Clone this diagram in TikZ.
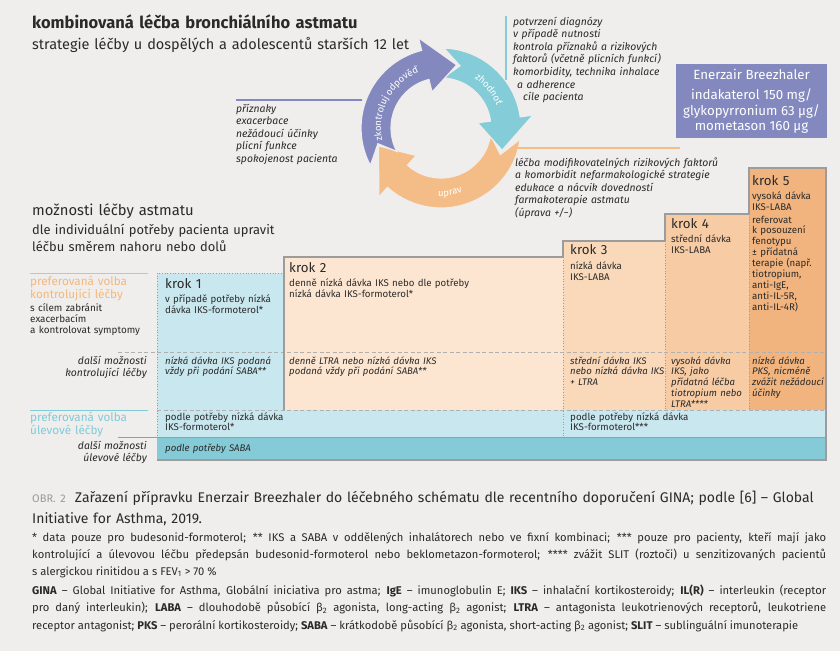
\documentclass[tikz,border=0pt]{standalone}
\usepackage{fontspec}
\setmainfont{Fira Sans}
\usetikzlibrary{decorations.text}
\definecolor{PageBg}{HTML}{EFEEEC}
\definecolor{CycleBlue}{HTML}{8389BE}
\definecolor{CycleTeal}{HTML}{83CCD8}
\definecolor{CycleOrange}{HTML}{F4BD87}
\definecolor{LabelOrange}{HTML}{F5B77A}
\definecolor{LabelTeal}{HTML}{7FCBD8}
\definecolor{StepOne}{HTML}{C9E7EE}
\definecolor{StepTwo}{HTML}{FDE6D1}
\definecolor{StepThree}{HTML}{FAD9BA}
\definecolor{StepFour}{HTML}{F7CCA4}
\definecolor{StepFive}{HTML}{F2B47E}
\definecolor{SabaBg}{HTML}{85CBD7}
\definecolor{FrameGray}{HTML}{9C9C9C}
\definecolor{Ink}{HTML}{2A2A2A}
\definecolor{CaptionGray}{HTML}{9A9A9A}

% one curved arrow of the cycle: colour, tail, notch, head base, tip (angles)
\newcommand{\cyclearrow}[5]{%
  \path[fill=#1, draw=PageBg, line width=1.2pt]
    (#2:80) arc (#2:#4:80) -- (#4:93) -- (#5:65) -- (#4:37) -- (#4:50)
    arc (#4:#2:50) -- (#3:65) -- cycle;}
\newcommand{\cyclefont}{\color{white}\fontsize{9.5}{9.5}\selectfont}

\begin{document}
\begin{tikzpicture}[x=1pt, y=1pt,
  txt/.style={inner sep=0pt, anchor=base west, align=left, text=Ink, text width=#1},
  txt/.default=250pt,
  rtxt/.style={inner sep=0pt, anchor=base east, align=right, text=Ink, text width=120pt},
  steplabel/.style={txt=70pt, font=\fontsize{13.3}{15}\selectfont},
  stepnote/.style={txt=#1, font=\fontsize{9.7}{11}\selectfont},
  stepnote/.default=100pt,
  altnote/.style={txt=#1, font=\fontsize{9.6}{10.8}\selectfont\itshape},
  altnote/.default=100pt,
  sidenote/.style={txt=220pt, font=\fontsize{10.4}{12.6}\selectfont\itshape},
  frame/.style={draw=FrameGray, line width=1.8pt},
  thinrule/.style={draw=FrameGray, line width=0.5pt},
  dotrule/.style={draw=FrameGray, line width=0.7pt, dotted},
  dashrule/.style={draw=FrameGray!80, line width=0.6pt, dash pattern=on 4pt off 2.5pt}]
  \fill[PageBg] (0,0) rectangle (840,-651);
  \useasboundingbox (0,0) rectangle (840,-651);

  % heading
  \node[txt=340pt, font=\fontsize{16.5}{19}\selectfont\bfseries] (title) at (32,-28)
    {kombinovaná léčba bronchiálního astmatu};
  \node[txt=380pt, font=\fontsize{14.5}{17}\selectfont] (subtitle) at (32,-49)
    {strategie léčby u dospělých a adolescentů starších 12 let};

  % cycle
  \begin{scope}[shift={(441,-128)}]
    \cyclearrow{CycleOrange}{-8}{-24}{-132}{-164}
    \cyclearrow{CycleTeal}{88}{73}{8}{-20}
    \cyclearrow{CycleBlue}{208}{194}{104}{76}
    \path[decorate, decoration={text along path, text align=center,
      text={|\cyclefont|zkontroluj odpověď}}] (197:60) arc (197:107:60);
    \path[decorate, decoration={text along path, text align=center,
      text={|\cyclefont|zhodnoť}}] (62:60) arc (62:16:60);
    \path[decorate, decoration={text along path, text align=center,
      text={|\cyclefont|uprav}}] (-104:68) arc (-104:-60:68);
  \end{scope}

  \draw[CycleBlue, line width=1.2pt] (236,-100) -- (362,-100);
  \node[sidenote] (checklist) at (236,-112)
    {příznaky\\exacerbace\\nežádoucí účinky\\plicní funkce\\spokojenost pacienta};
  \draw[CycleTeal, line width=1.2pt] (506,-16) -- (506,-80);
  \node[sidenote] (assesslist) at (513,-25)
    {potvrzení diagnózy\\v případě nutnosti\\kontrola příznaků a rizikových\\
     faktorů (včetně plicních funkcí)\\komorbidity, technika inhalace\\
     \hspace*{4pt}a adherence\\\hspace*{10pt}cíle pacienta};
  \draw[CycleOrange, line width=1.2pt] (517,-148) -- (680,-148);
  \node[sidenote] (adjustlist) at (515,-166)
    {léčba modifikovatelných rizikových faktorů\\a komorbidit nefarmakologické strategie\\
     edukace a nácvik dovedností\\farmakoterapie astmatu\\(úprava +/−)};

  \node[fill=CycleBlue, text=white, minimum width=151pt, minimum height=74pt,
        inner sep=0pt, align=center, font=\fontsize{13.3}{15.5}\selectfont] (product) at (751.5,-101)
    {Enerzair Breezhaler\\[5pt]indakaterol 150 mg/\\glykopyrronium 63 µg/\\mometason 160 µg};

  % options heading
  \node[txt, font=\fontsize{14.8}{17}\selectfont] (optstitle) at (32,-215) {možnosti léčby astmatu};
  \node[txt, font=\fontsize{12.9}{17}\selectfont] (optssub) at (32,-234)
    {dle individuální potřeby pacienta upravit\\léčbu směrem nahoru nebo dolů};

  % step cells
  \fill[StepOne] (157,-273) rectangle (284,-410);
  \fill[StepTwo] (284,-257) rectangle (563,-410);
  \fill[StepThree] (563,-241) rectangle (665,-410);
  \fill[StepFour] (665,-214) rectangle (749,-410);
  \fill[StepFive] (749,-168) rectangle (826,-410);
  \fill[StepOne] (157,-410) rectangle (826,-437);
  \fill[SabaBg] (157,-437) rectangle (826,-460);

  \draw[dotrule] (284,-273) -- (157,-273) -- (157,-437);
  \draw[dotrule] (563,-257) -- (563,-437);
  \draw[dotrule] (665,-241) -- (665,-410);
  \draw[dotrule] (749,-214) -- (749,-410);
  \draw[dashrule] (118,-352) -- (826,-352);
  \draw[dashrule] (157,-410) -- (826,-410);
  \draw[thinrule] (118,-437) -- (826,-437);
  \draw[frame] (284,-410) -- (284,-257) -- (563,-257) -- (563,-241) -- (665,-241)
    -- (665,-214) -- (749,-214) -- (749,-168) -- (826,-168) -- (826,-460) -- (157,-460);

  % row labels
  \draw[LabelOrange, line width=1pt] (30,-273) -- (148,-273);
  \node[txt=120pt, text=LabelOrange, font=\fontsize{11.7}{13}\selectfont] (ctrllabel) at (30,-285)
    {preferovaná volba\\kontrolující léčby};
  \node[txt=120pt, font=\fontsize{9.9}{11}\selectfont] (ctrlaim) at (30,-311)
    {s cílem zabránit\\exacerbacím\\a kontrolovat symptomy};
  \node[rtxt, font=\fontsize{10.4}{12}\selectfont\itshape] (ctrlother) at (147,-364)
    {další možnosti\\kontrolující léčby};
  \draw[LabelTeal, line width=1pt] (30,-410) -- (148,-410);
  \node[txt=120pt, text=LabelTeal, font=\fontsize{11.7}{13}\selectfont] (rellabel) at (30,-421)
    {preferovaná volba\\úlevové léčby};
  \node[rtxt, font=\fontsize{10.4}{12.5}\selectfont\itshape] (relother) at (147,-449)
    {další možnosti\\úlevové léčby};

  % steps
  \node[steplabel] (k1) at (165,-288) {krok 1};
  \node[stepnote=118pt] (d1) at (165,-302) {v případě potřeby nízká\\dávka IKS-formoterol*};
  \node[steplabel] (k2) at (289,-272) {krok 2};
  \node[stepnote=270pt] (d2) at (289,-286) {denně nízká dávka IKS nebo dle potřeby\\nízká dávka IKS-formoterol*};
  \node[steplabel] (k3) at (570,-254) {krok 3};
  \node[stepnote] (d3) at (570,-269) {nízká dávka\\IKS-LABA};
  \node[steplabel] (k4) at (671,-228) {krok 4};
  \node[stepnote] (d4) at (671,-242) {střední dávka\\IKS-LABA};
  \node[steplabel] (k5) at (752,-185) {krok 5};
  \node[stepnote=80pt] (d5) at (752,-199) {vysoká dávka\\IKS-LABA};
  \node[stepnote=80pt, font=\fontsize{9.7}{10.9}\selectfont] (d5b) at (752,-223)
    {referovat\\k posouzení\\fenotypu\\± přídatná\\terapie (např.\\tiotropium,\\anti-IgE,\\anti-IL-5R,\\anti-IL-4R)};

  \node[altnote=118pt] (a1) at (165,-364) {nízká dávka IKS podaná\\vždy při podání SABA**};
  \node[altnote=270pt] (a2) at (289,-364) {denně LTRA nebo nízká dávka IKS\\podaná vždy při podání SABA**};
  \node[altnote] (a3) at (570,-364) {střední dávka IKS\\nebo nízká dávka IKS\\+ LTRA};
  \node[altnote=80pt] (a4) at (671,-364) {vysoká dávka\\IKS, jako\\přídatná léčba\\tiotropium nebo\\LTRA****};
  \node[altnote=80pt] (a5) at (752,-364) {nízká dávka\\PKS, nicméně\\zvážit nežádoucí\\účinky};

  \node[stepnote=200pt, font=\fontsize{9.75}{10}\selectfont] (r1) at (165,-420) {podle potřeby nízká dávka\\IKS-formoterol*};
  \node[stepnote=200pt, font=\fontsize{9.75}{10}\selectfont] (r2) at (570,-420) {podle potřeby nízká dávka\\IKS-formoterol***};
  \node[altnote=200pt] (s1) at (165,-451) {podle potřeby SABA};

  % caption
  \node[txt=804pt, font=\fontsize{14}{21}\selectfont] (caption) at (32,-502)
    {{\color{CaptionGray}\fontsize{11}{11}\selectfont OBR. 2}\hspace{9pt}Zařazení přípravku Enerzair Breezhaler do léčebného schématu dle recentního doporučení GINA; podle [6] – Global\\
     Initiative for Asthma, 2019.};
  \node[txt=794pt, align=justify, font=\fontsize{11.2}{17}\selectfont] (notes) at (32,-541)
    {* data pouze pro budesonid-formoterol; ** IKS a SABA v oddělených inhalátorech nebo ve fixní kombinaci; *** pouze pro pacienty, kteří mají jako\linebreak
     kontrolující a úlevovou léčbu předepsán budesonid-formoterol nebo beklometazon-formoterol; **** zvážit SLIT (roztoči) u senzitizovaných pacientů\linebreak
     s alergickou rinitidou a s FEV\textsubscript{1} > 70 \%};
  \node[txt=794pt, align=justify, font=\fontsize{11.2}{17.5}\selectfont] (abbrev) at (32,-594)
    {\textbf{GINA} – Global Initiative for Asthma, Globální iniciativa pro astma; \textbf{IgE} – imunoglobulin E; \textbf{IKS} – inhalační kortikosteroidy; \textbf{IL(R)} – interleukin (receptor\linebreak
     pro daný interleukin); \textbf{LABA} – dlouhodobě působící β\textsubscript{2} agonista, long-acting β\textsubscript{2} agonist; \textbf{LTRA} – antagonista leukotrienových receptorů, leukotriene\linebreak
     receptor antagonist; \textbf{PKS} – perorální kortikosteroidy; \textbf{SABA} – krátkodobě působící β\textsubscript{2} agonista, short-acting β\textsubscript{2} agonist; \textbf{SLIT} – sublinguální imunoterapie};
\end{tikzpicture}
\end{document}
